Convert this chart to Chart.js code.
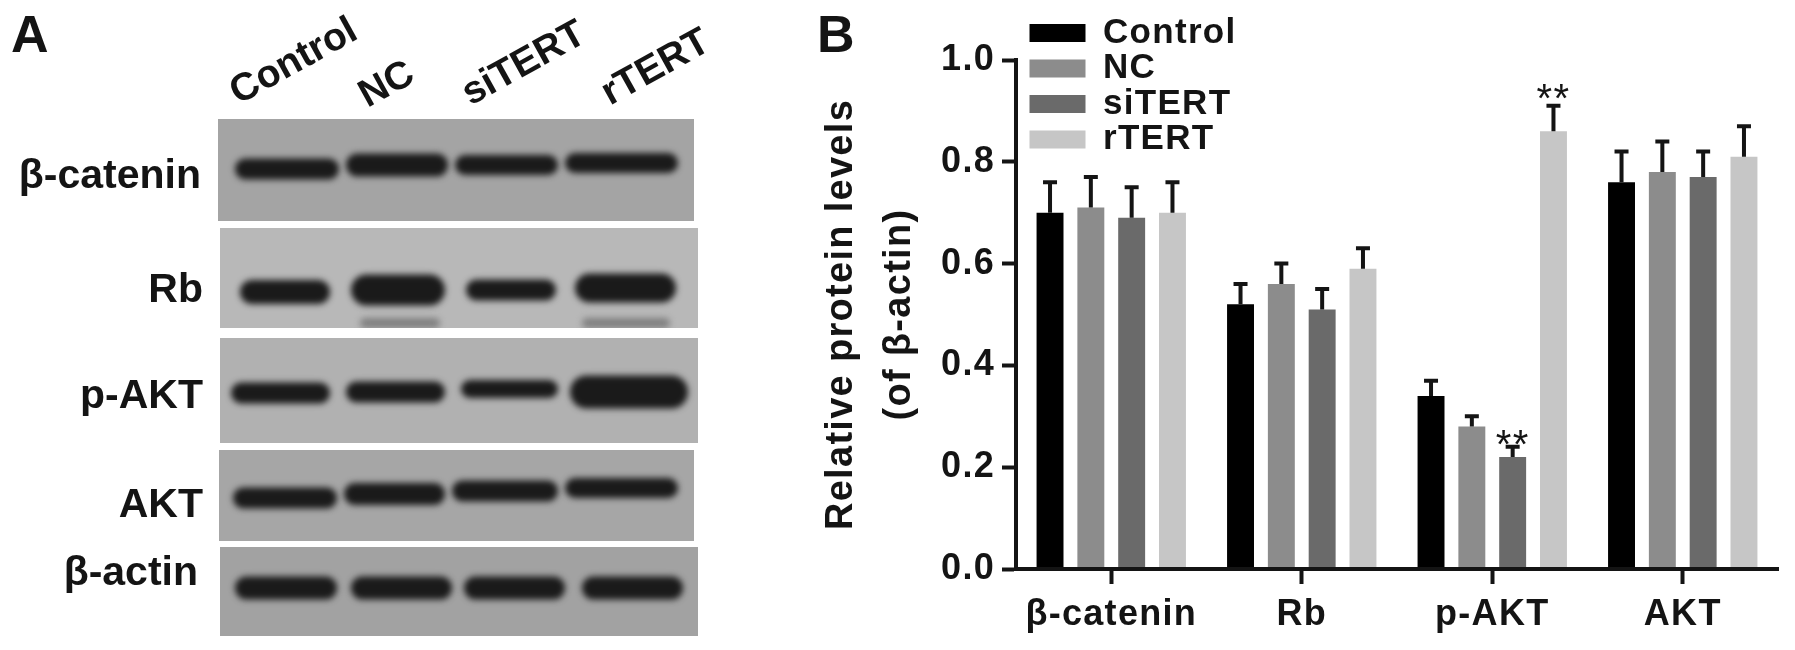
<!DOCTYPE html>
<html>
<head>
<meta charset="utf-8">
<title>Protein levels</title>
<script src="https://cdn.jsdelivr.net/npm/chart.js@4"></script>
<style>
    html, body { margin: 0; padding: 0; background: #fff; }
    canvas { display: block; }
</style>
</head>
<body>
<canvas id="chart" width="1795" height="650"></canvas>
<script>
// Chart values
const categories = ['β-catenin', 'Rb', 'p-AKT', 'AKT'];
const seriesNames = ['Control', 'NC', 'siTERT', 'rTERT'];
const controlValues = [0.70, 0.52, 0.34, 0.76];
const ncValues = [0.71, 0.56, 0.28, 0.78];
const siTertValues = [0.69, 0.51, 0.22, 0.77];
const rTertValues = [0.70, 0.59, 0.86, 0.81];
const controlErrors = [0.06, 0.04, 0.03, 0.06];
const ncErrors = [0.06, 0.04, 0.02, 0.06];
const siTertErrors = [0.06, 0.04, 0.02, 0.05];
const rTertErrors = [0.06, 0.04, 0.05, 0.06];
const controlStars = ['', '', '', ''];
const ncStars = ['', '', '', ''];
const siTertStars = ['', '', '**', ''];
const rTertStars = ['', '', '**', ''];
const yTickValues = [0, 0.2, 0.4, 0.6, 0.8, 1.0];

const seriesColors = ['#000000', '#8c8c8c', '#6a6a6a', '#c6c6c6'];
const seriesValues = [controlValues, ncValues, siTertValues, rTertValues];
const seriesErrors = [controlErrors, ncErrors, siTertErrors, rTertErrors];
const seriesStars = [controlStars, ncStars, siTertStars, rTertStars];
// how far above the error cap each series' stars sit
const starGaps = [0, 0, 11, 16];

// Western blot panel (picture, not data): gel rectangles and their bands
const laneLabels = [
    { text: 'Control', x: 294, y: 62 },
    { text: 'NC', x: 387, y: 85 },
    { text: 'siTERT', x: 524, y: 64 },
    { text: 'rTERT', x: 656, y: 68 }
];
const blotPanels = [
    { label: 'β-catenin', right: 201, base: 188, x: 218, y: 119, w: 476, h: 102, fill: '#a4a4a4',
      bands: [[235, 339, 169, 18], [346, 448, 165, 20], [455, 558, 165, 17], [565, 678, 163, 17]] },
    { label: 'Rb', right: 203, base: 302, x: 220, y: 228, w: 478, h: 100, fill: '#b8b8b8',
      bands: [[240, 330, 292, 21], [351, 445, 290, 28], [466, 556, 290, 18], [575, 676, 288, 26]],
      faint: [[360, 440, 323, 7], [582, 670, 323, 7]] },
    { label: 'p-AKT', right: 203, base: 408, x: 220, y: 338, w: 478, h: 105, fill: '#b1b1b1',
      bands: [[231, 330, 393, 18], [346, 445, 392, 18], [461, 558, 389, 15], [570, 688, 392, 30]] },
    { label: 'AKT', right: 203, base: 517, x: 219, y: 450, w: 475, h: 91, fill: '#a6a6a6',
      bands: [[233, 337, 498, 18], [344, 445, 494, 19], [452, 558, 491, 18], [565, 678, 488, 17]] },
    { label: 'β-actin', right: 198, base: 585, x: 220, y: 547, w: 478, h: 89, fill: '#a2a2a2',
      bands: [[235, 337, 588, 20], [351, 452, 588, 20], [464, 565, 588, 20], [582, 683, 588, 20]] }
];

const SANS = '"Liberation Sans", Arial, sans-serif';
const INK = '#141414';

function drawBand(ctx, band, color, blur) {
    const [x0, x1, cy, h] = band;
    const bh = h + 3;
    ctx.filter = `blur(${blur}px)`;
    ctx.fillStyle = color;
    ctx.beginPath();
    ctx.roundRect(x0, cy - bh / 2, x1 - x0, bh, bh / 2);
    ctx.fill();
    ctx.filter = 'none';
}

// Panel A and the two panel letters
const blotPlugin = {
    id: 'blotPlugin',
    beforeDraw(chart) {
        const ctx = chart.ctx;
        ctx.save();
        ctx.letterSpacing = '0px';
        ctx.fillStyle = INK;
        ctx.textBaseline = 'alphabetic';

        ctx.font = `bold 52px ${SANS}`;
        ctx.textAlign = 'left';
        ctx.fillText('A', 11, 52);
        ctx.fillText('B', 817, 52);

        blotPanels.forEach(p => {
            ctx.save();
            ctx.fillStyle = p.fill;
            ctx.fillRect(p.x, p.y, p.w, p.h);
            ctx.beginPath();
            ctx.rect(p.x, p.y, p.w, p.h);
            ctx.clip();
            (p.faint || []).forEach(b => drawBand(ctx, b, '#808080', 3));
            p.bands.forEach(b => drawBand(ctx, b, '#1a1a1a', 3));
            ctx.restore();

            ctx.font = `bold 41px ${SANS}`;
            ctx.textAlign = 'right';
            ctx.fillText(p.label, p.right, p.base);
        });

        ctx.font = `bold 39px ${SANS}`;
        ctx.textAlign = 'center';
        ctx.textBaseline = 'middle';
        laneLabels.forEach(l => {
            ctx.save();
            ctx.translate(l.x, l.y);
            ctx.rotate(-29 * Math.PI / 180);
            ctx.fillText(l.text, 0, 0);
            ctx.restore();
        });
        ctx.restore();

        // the horizontal text of panel B is a little wider than the font
        ctx.letterSpacing = '1.3px';
    }
};

// Upper error bars and significance stars, placed through the chart's own scale
const errorBarPlugin = {
    id: 'errorBarPlugin',
    afterDatasetsDraw(chart) {
        const ctx = chart.ctx;
        const yScale = chart.scales.y;
        ctx.save();
        ctx.strokeStyle = INK;
        ctx.fillStyle = INK;
        seriesErrors.forEach((errors, i) => {
            chart.getDatasetMeta(i).data.forEach((bar, j) => {
                const top = yScale.getPixelForValue(seriesValues[i][j] + errors[j]);
                ctx.lineWidth = 4;
                ctx.beginPath();
                ctx.moveTo(bar.x, bar.y);
                ctx.lineTo(bar.x, top);
                ctx.moveTo(bar.x - 7, top);
                ctx.lineTo(bar.x + 7, top);
                ctx.stroke();
                if (seriesStars[i][j]) {
                    ctx.font = `40px ${SANS}`;
                    ctx.textAlign = 'center';
                    ctx.textBaseline = 'alphabetic';
                    ctx.fillText(seriesStars[i][j], bar.x, top - starGaps[i] + 22);
                }
            });
        });
        ctx.restore();
    }
};

// The legend sits over the top of the plot, next to the y axis
const legendPlacePlugin = {
    id: 'legendPlacePlugin',
    afterLayout(chart) {
        const legend = chart.legend;
        const w = legend.width, h = legend.height;
        legend.left = 1029;
        legend.top = 15;
        legend.right = legend.left + w;
        legend.bottom = legend.top + h;
    }
};

new Chart(document.getElementById('chart'), {
    type: 'bar',
    data: {
        labels: categories,
        datasets: seriesNames.map((name, i) => ({
            label: name,
            data: seriesValues[i],
            backgroundColor: seriesColors[i],
            barPercentage: 0.66,
            categoryPercentage: 0.857
        }))
    },
    plugins: [blotPlugin, legendPlacePlugin, errorBarPlugin],
    options: {
        responsive: false,
        animation: false,
        devicePixelRatio: 1,
        layout: { padding: { left: 800, top: 60, right: 17, bottom: 0 } },
        plugins: {
            tooltip: { enabled: false },
            legend: {
                position: 'chartArea',
                align: 'start',
                labels: {
                    boxWidth: 56,
                    boxHeight: 18,
                    padding: 0.5,
                    color: INK,
                    font: { family: SANS, size: 35, weight: 'bold', lineHeight: 1 }
                }
            }
        },
        scales: {
            x: {
                afterFit(scale) { scale.height = 81; },
                border: { color: INK, width: 4, z: 1 },
                grid: { display: true, drawOnChartArea: false, offset: false, color: INK, tickLength: 15, tickWidth: 4 },
                ticks: {
                    color: INK,
                    padding: 9,
                    maxRotation: 0,
                    font: { family: SANS, size: 36, weight: 'bold' }
                }
            },
            y: {
                min: 0,
                max: 1,
                afterFit(scale) { scale.width = 216; },
                afterBuildTicks(scale) { scale.ticks = yTickValues.map(v => ({ value: v })); },
                border: { color: INK, width: 4, z: 1 },
                grid: { display: true, drawOnChartArea: false, color: INK, tickLength: 14, tickWidth: 4 },
                ticks: {
                    color: INK,
                    padding: 7,
                    callback: v => v.toFixed(1),
                    font: { family: SANS, size: 36, weight: 'bold' }
                },
                title: {
                    display: true,
                    text: ['Relative protein levels', '(of β-actin)'],
                    color: INK,
                    padding: { top: 12, bottom: 0 },
                    font: { family: SANS, size: 38, weight: 'bold', lineHeight: 1.53 }
                }
            }
        }
    }
});
</script>
</body>
</html>
